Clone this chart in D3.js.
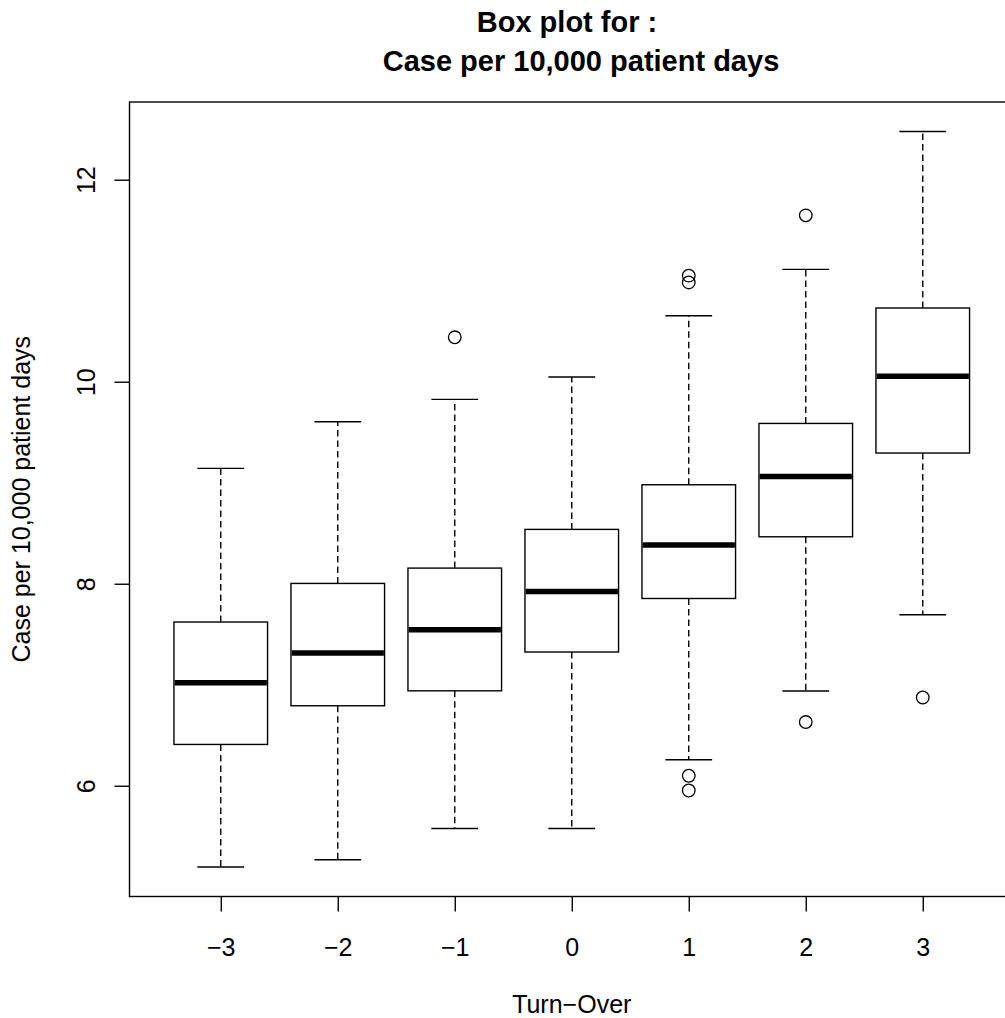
<!DOCTYPE html>
<html>
<head>
<meta charset="utf-8">
<script src="https://cdn.jsdelivr.net/npm/d3@7"></script>
<style>
  html, body { margin: 0; padding: 0; background: #fff; overflow: hidden; }
  svg { display: block; }
  text { font-family: "Liberation Sans", Arial, Helvetica, sans-serif; fill: #000; }
</style>
</head>
<body>
<svg id="chart" width="1005" height="1018"></svg>
<script>
// Turn-Over groups and their tick labels
const groups = [-3, -2, -1, 0, 1, 2, 3];
const groupLabels = ["\u22123", "\u22122", "\u22121", "0", "1", "2", "3"];

// Five-number summaries per group (cases per 10,000 patient days)
const whiskerLow  = [5.195, 5.267, 5.577, 5.577, 6.257, 6.938, 7.693];
const quartile1   = [6.409, 6.792, 6.940, 7.324, 7.854, 8.465, 9.294];
const medians     = [7.020, 7.314, 7.545, 7.924, 8.383, 9.062, 10.053];
const quartile3   = [7.621, 8.003, 8.155, 8.538, 8.980, 9.587, 10.730];
const whiskerHigh = [9.142, 9.604, 9.825, 10.047, 10.653, 11.112, 12.478];

// Points beyond the whiskers
const outliers = [
  [],
  [],
  [10.44],
  [],
  [11.05, 10.983, 6.099, 5.953],
  [11.647, 6.631],
  [6.874]
];

const yTicks = [6, 8, 10, 12];

const titleLines = ["Box plot for :", "Case per 10,000 patient days"];
const xTitle = "Turn\u2212Over";
const yTitle = "Case per 10,000 patient days";

// ---- layout ----
const svg = d3.select("#chart");
const plot = { left: 129.5, top: 102, bottom: 896.5 };
const n = groups.length;
// group positions 1..n, with 0.5 unit side room plus 4% extension
const xDomain = [0.5 - 0.04 * n, n + 0.5 + 0.04 * n];
const unit = 117;
plot.right = plot.left + (xDomain[1] - xDomain[0]) * unit;

const x = d3.scaleLinear().domain(xDomain).range([plot.left, plot.right]);

const allVals = whiskerLow.concat(whiskerHigh, outliers.flat());
const lo = d3.min(allVals), hi = d3.max(allVals);
const pad = (hi - lo) * 0.04;
const y = d3.scaleLinear().domain([lo - pad, hi + pad]).range([plot.bottom, plot.top]);

const boxW = 0.8 * unit;
const capW = boxW / 2;
const lineW = 1.4;

const data = groups.map((g, i) => ({
  pos: i + 1,
  lo: whiskerLow[i], q1: quartile1[i], med: medians[i],
  q3: quartile3[i], hi: whiskerHigh[i], out: outliers[i]
}));

const boxes = svg.append("g")
  .selectAll("g")
  .data(data)
  .join("g");

// dashed whiskers
boxes.append("line")
  .attr("x1", d => x(d.pos)).attr("x2", d => x(d.pos))
  .attr("y1", d => y(d.q3)).attr("y2", d => y(d.hi))
  .attr("stroke", "#000").attr("stroke-width", lineW)
  .attr("stroke-dasharray", "6.5,4");
boxes.append("line")
  .attr("x1", d => x(d.pos)).attr("x2", d => x(d.pos))
  .attr("y1", d => y(d.q1)).attr("y2", d => y(d.lo))
  .attr("stroke", "#000").attr("stroke-width", lineW)
  .attr("stroke-dasharray", "6.5,4");

// whisker caps
["lo", "hi"].forEach(k => {
  boxes.append("line")
    .attr("x1", d => x(d.pos) - capW / 2).attr("x2", d => x(d.pos) + capW / 2)
    .attr("y1", d => y(d[k])).attr("y2", d => y(d[k]))
    .attr("stroke", "#000").attr("stroke-width", lineW);
});

// boxes
boxes.append("rect")
  .attr("x", d => x(d.pos) - boxW / 2)
  .attr("width", boxW)
  .attr("y", d => y(d.q3))
  .attr("height", d => y(d.q1) - y(d.q3))
  .attr("fill", "#fff")
  .attr("stroke", "#000").attr("stroke-width", lineW);

// medians
boxes.append("line")
  .attr("x1", d => x(d.pos) - boxW / 2 + 0.7).attr("x2", d => x(d.pos) + boxW / 2 - 0.7)
  .attr("y1", d => y(d.med)).attr("y2", d => y(d.med))
  .attr("stroke", "#000").attr("stroke-width", 5.5);

// outliers
boxes.selectAll("circle")
  .data(d => d.out.map(v => ({ pos: d.pos, v })))
  .join("circle")
  .attr("cx", d => x(d.pos))
  .attr("cy", d => y(d.v))
  .attr("r", 6.3)
  .attr("fill", "none")
  .attr("stroke", "#000").attr("stroke-width", 1.3);

// plot frame
svg.append("rect")
  .attr("x", plot.left).attr("y", plot.top)
  .attr("width", plot.right - plot.left)
  .attr("height", plot.bottom - plot.top)
  .attr("fill", "none").attr("stroke", "#000").attr("stroke-width", lineW);

// x axis
const xAxis = svg.append("g")
  .attr("transform", `translate(0,${plot.bottom})`)
  .call(d3.axisBottom(x)
    .tickValues(data.map(d => d.pos))
    .tickFormat((d, i) => groupLabels[i])
    .tickSize(15).tickSizeOuter(0));
xAxis.select(".domain").remove();
xAxis.selectAll(".tick line").attr("stroke", "#000").attr("stroke-width", lineW);
xAxis.selectAll(".tick text")
  .attr("y", 59).attr("dy", null)
  .attr("font-size", 25)
  .attr("font-family", "Liberation Sans, Arial, sans-serif");

// y axis
const yAxis = svg.append("g")
  .attr("transform", `translate(${plot.left},0)`)
  .call(d3.axisLeft(y).tickValues(yTicks).tickFormat(d3.format("d"))
    .tickSize(15).tickSizeOuter(0));
yAxis.select(".domain").remove();
yAxis.selectAll(".tick line").attr("stroke", "#000").attr("stroke-width", lineW);
yAxis.selectAll(".tick text")
  .attr("x", null).attr("dy", null)
  .attr("transform", "translate(-35,0) rotate(-90)")
  .attr("text-anchor", "middle")
  .attr("font-size", 25)
  .attr("font-family", "Liberation Sans, Arial, sans-serif");

// axis titles
svg.append("text")
  .attr("x", (plot.left + plot.right) / 2)
  .attr("y", 1013)
  .attr("text-anchor", "middle")
  .attr("font-size", 25)
  .text(xTitle);

svg.append("text")
  .attr("transform", `translate(30,${(plot.top + plot.bottom) / 2}) rotate(-90)`)
  .attr("text-anchor", "middle")
  .attr("font-size", 25)
  .text(yTitle);

// title
svg.append("g")
  .selectAll("text")
  .data(titleLines)
  .join("text")
  .attr("x", (d, i) => i === 0 ? 567 : 581)
  .attr("y", (d, i) => i === 0 ? 32 : 71)
  .attr("text-anchor", "middle")
  .attr("font-size", 29)
  .attr("font-weight", "bold")
  .text(d => d);
</script>
</body>
</html>
